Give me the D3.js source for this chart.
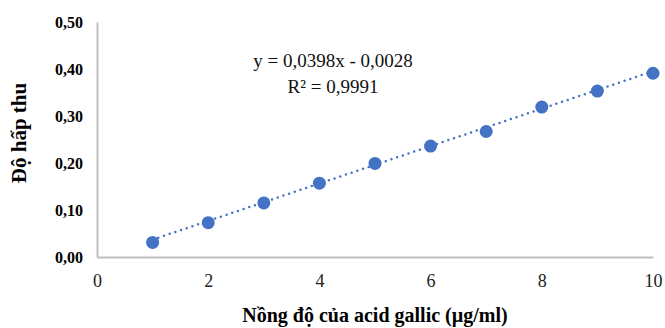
<!DOCTYPE html>
<html>
<head>
<meta charset="UTF-8">
<script src="https://d3js.org/d3.v7.min.js"></script>
<style>
  body { margin: 0; background: #fff; }
  svg text { font-family: 'Liberation Serif', 'Times New Roman', 'DejaVu Serif', serif !important; }
</style>
</head>
<body>
<div id="chart"></div>
<script>
// Data
const concentrations = [1, 2, 3, 4, 5, 6, 7, 8, 9, 10];
const absorbance = [0.031, 0.073, 0.115, 0.157, 0.199, 0.236, 0.267, 0.319, 0.353, 0.391];
const yTicks = [0, 0.1, 0.2, 0.3, 0.4, 0.5];
const xTicks = [0, 2, 4, 6, 8, 10];
const slope = 0.0398, intercept = -0.0028;
const equationLines = ["y = 0,0398x - 0,0028", "R² = 0,9991"];

const width = 665, height = 328;
const margin = {top: 22, right: 12, bottom: 71, left: 97};
const serif = "'Liberation Serif', 'Times New Roman', serif";

const svg = d3.select("#chart").append("svg")
  .attr("width", width).attr("height", height)
  .attr("font-family", serif);

const x = d3.scaleLinear().domain([0, 10]).range([margin.left, width - margin.right]);
const y = d3.scaleLinear().domain([0, 0.5]).range([height - margin.bottom, margin.top]);

const fmt = d => d3.format(".2f")(d).replace(".", ",");

// axes
svg.append("g")
  .attr("transform", `translate(${margin.left},0)`)
  .call(d3.axisLeft(y).tickValues(yTicks).tickFormat(fmt).tickSize(0).tickPadding(14))
  .attr("font-family", serif)
  .call(g => g.select(".domain").attr("stroke", "#bfbfbf").attr("stroke-width", 2))
  .call(g => g.selectAll("text").attr("font-size", 16).attr("font-weight", "bold").attr("fill", "#000"));

svg.append("g")
  .attr("transform", `translate(0,${height - margin.bottom})`)
  .call(d3.axisBottom(x).tickValues(xTicks).tickSize(0).tickPadding(17))
  .attr("font-family", serif)
  .call(g => g.select(".domain").attr("stroke", "#bfbfbf").attr("stroke-width", 2))
  .call(g => g.selectAll("text").attr("font-size", 18).attr("fill", "#222"));

// trendline
svg.append("line")
  .attr("x1", x(1)).attr("y1", y(slope * 1 + intercept))
  .attr("x2", x(10)).attr("y2", y(slope * 10 + intercept))
  .attr("stroke", "#4472C4").attr("stroke-width", 2.5)
  .attr("stroke-dasharray", "0 6").attr("stroke-linecap", "round");

// points
svg.selectAll("circle").data(concentrations).join("circle")
  .attr("cx", d => x(d))
  .attr("cy", (d, i) => y(absorbance[i]))
  .attr("r", 6.5)
  .attr("fill", "#4472C4");

// equation
svg.append("g").selectAll("text").data(equationLines).join("text")
  .attr("x", 333).attr("y", (d, i) => 67 + i * 26)
  .attr("text-anchor", "middle")
  .attr("font-size", 19).attr("fill", "#111")
  .text(d => d);

// axis titles
svg.append("text")
  .attr("x", 375).attr("y", 322)
  .attr("text-anchor", "middle").attr("font-size", 20).attr("font-weight", "bold")
  .text("Nồng độ của acid gallic (µg/ml)");

svg.append("text")
  .attr("transform", `translate(26,133) rotate(-90)`)
  .attr("text-anchor", "middle").attr("font-size", 21).attr("font-weight", "bold")
  .text("Độ hấp thu");
</script>
</body>
</html>
